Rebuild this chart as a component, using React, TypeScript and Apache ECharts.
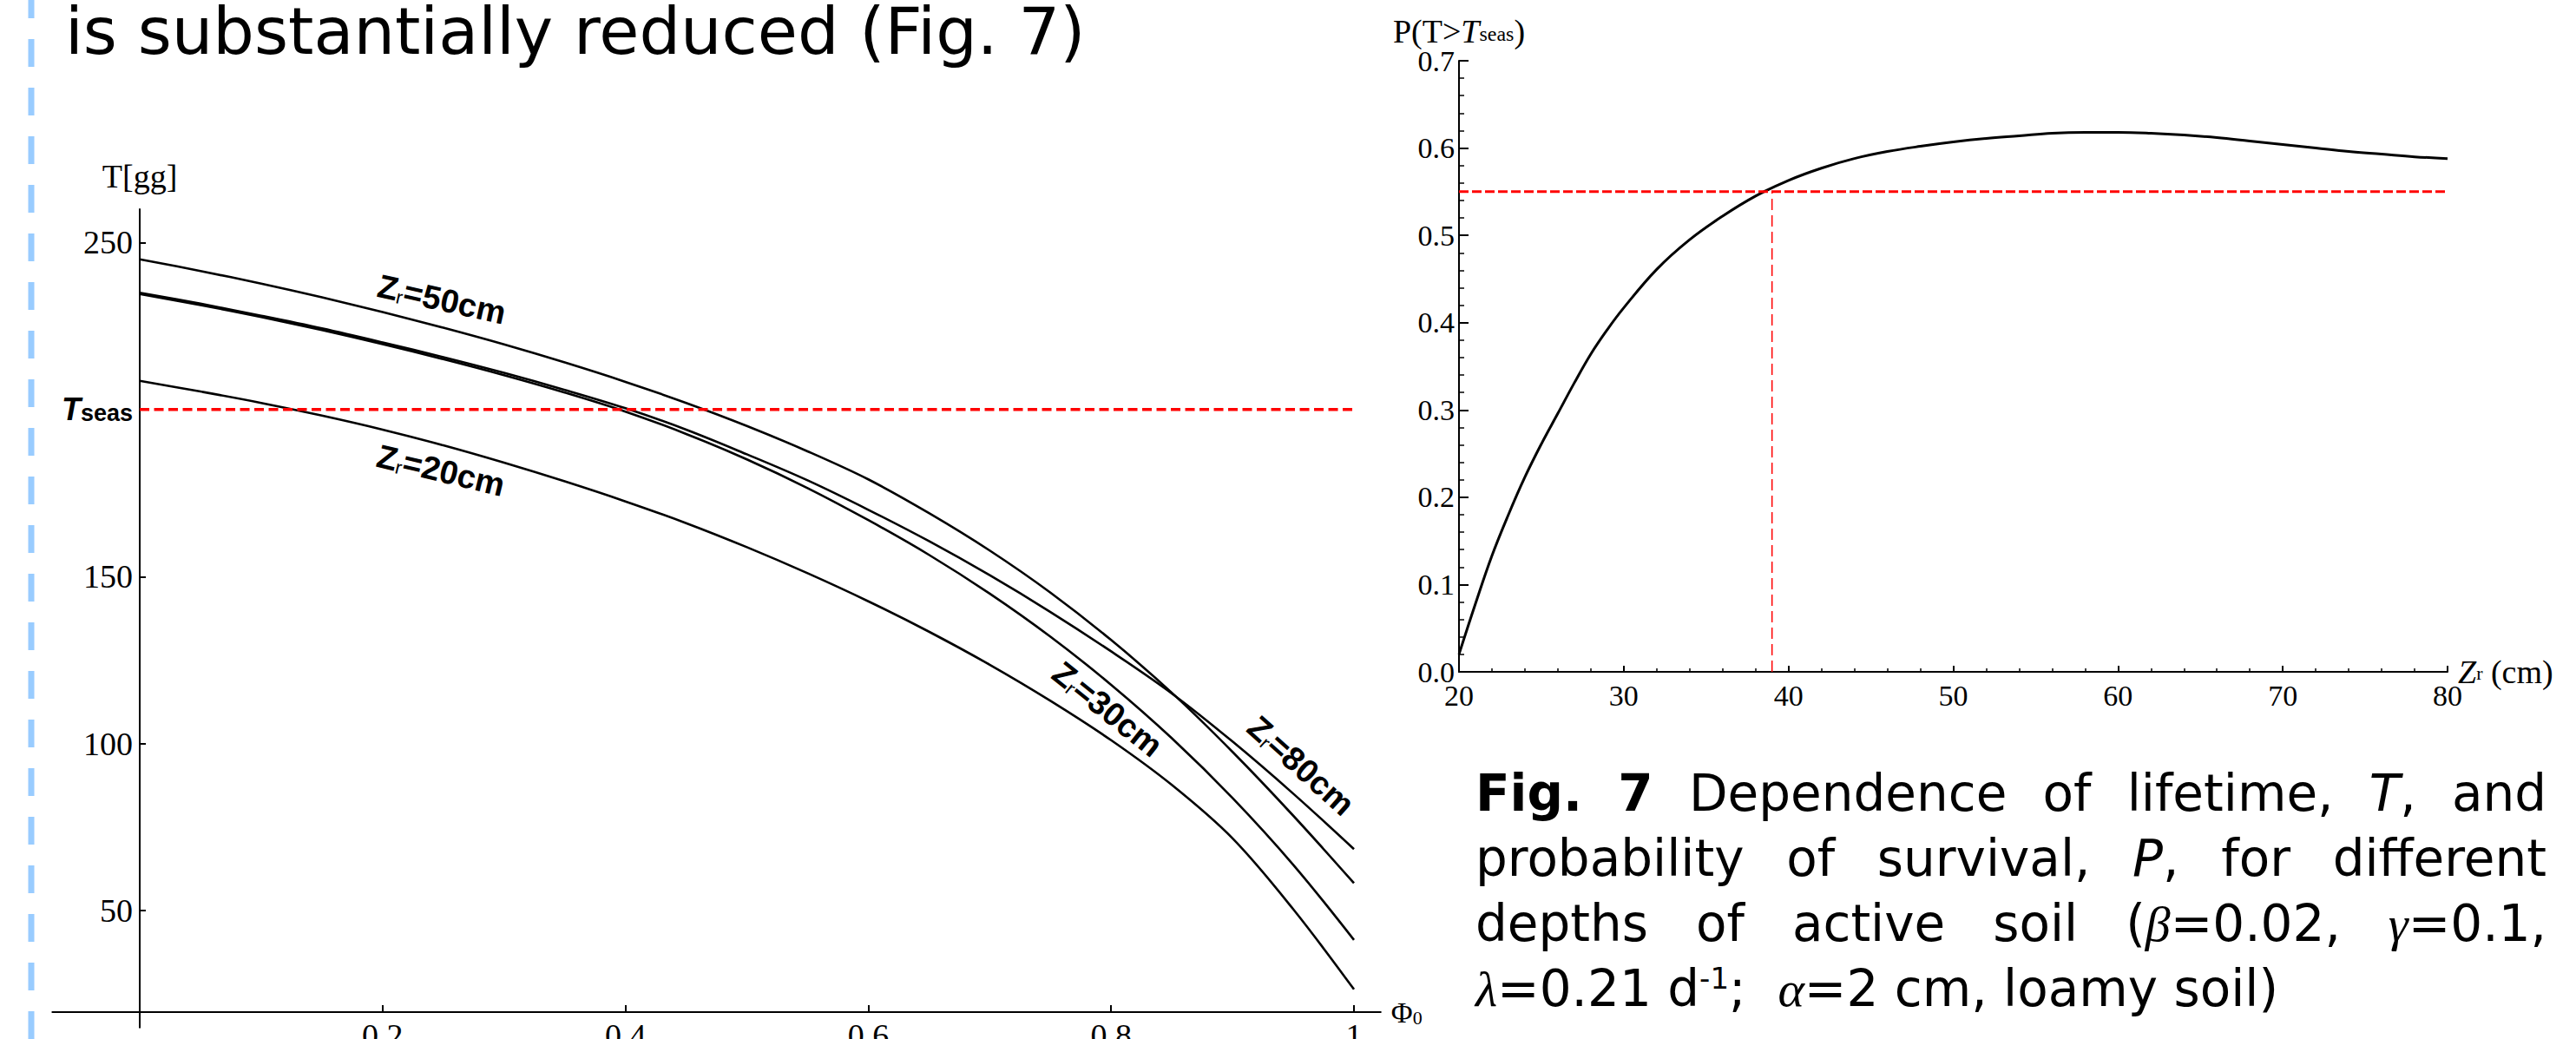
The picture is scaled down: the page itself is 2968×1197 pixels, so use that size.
import React, { useEffect, useRef } from 'react';
import * as echarts from 'echarts';

// ---------- DATA ----------
const phi = [0, 0.05, 0.1, 0.15, 0.2, 0.25, 0.3, 0.35, 0.4, 0.45, 0.5, 0.55, 0.6, 0.65, 0.7, 0.75, 0.8, 0.85, 0.9, 0.95, 1];
const tZr20 = [208.6, 205.4, 202.0, 198.2, 194.0, 189.3, 184.1, 178.5, 172.5, 166.0, 158.8, 151.0, 142.6, 133.5, 123.6, 112.8, 101.0, 87.6, 71.6, 50.4, 26.4];
const tZr30 = [234.6, 231.3, 227.7, 223.8, 219.6, 215.1, 210.3, 205.1, 199.4, 192.7, 185.1, 176.5, 166.9, 156.5, 144.9, 132.0, 117.6, 101.6, 83.7, 63.7, 41.2];
const tZr50 = [245.0, 241.5, 237.7, 233.6, 229.2, 224.5, 219.5, 214.1, 208.3, 202.0, 195.1, 187.5, 179.1, 169.0, 157.8, 145.2, 131.0, 115.2, 97.5, 78.4, 58.2];
const tZr80 = [235.0, 231.7, 228.1, 224.3, 220.1, 215.7, 211.0, 205.9, 200.4, 194.0, 186.6, 178.8, 170.0, 160.6, 150.4, 139.4, 127.6, 115.0, 100.6, 85.0, 68.4];
const tSeas = 200;
const leftYTicks = [50, 100, 150, 200, 250];
const leftXTicks = [0.2, 0.4, 0.6, 0.8, 1];
const curveLabels = ['50cm', '20cm', '30cm', '80cm'];

const zr = [20, 21, 22, 23, 24, 25, 26, 27, 28, 29, 30, 32, 34, 36, 38, 40, 42, 44, 46, 48, 50, 52, 54, 56, 58, 60, 62, 64, 66, 68, 70, 72, 74, 76, 78, 80];
const pSurv = [0.020, 0.078, 0.133, 0.180, 0.223, 0.261, 0.296, 0.331, 0.364, 0.392, 0.417, 0.461, 0.495, 0.522, 0.545, 0.563, 0.577, 0.588, 0.596, 0.602, 0.607, 0.611, 0.614, 0.617, 0.618, 0.618, 0.617, 0.615, 0.612, 0.608, 0.604, 0.600, 0.596, 0.593, 0.590, 0.588];
const pThreshold = 0.55;
const zrThreshold = 39;

const titleText = 'is substantially reduced (Fig. 7)';
type Seg = [string, string];
const captionLines: Seg[][][] = [
  [[['Fig.', 'b']], [['7', 'b']], [['Dependence', 'r']], [['of', 'r']], [['lifetime,', 'r']], [['T', 'i'], [',', 'r']], [['and', 'r']]],
  [[['probability', 'r']], [['of', 'r']], [['survival,', 'r']], [['P', 'i'], [',', 'r']], [['for', 'r']], [['different', 'r']]],
  [[['depths', 'r']], [['of', 'r']], [['active', 'r']], [['soil', 'r']], [['(', 'r'], ['β', 'g'], ['=0.02,', 'r']], [['γ', 'g'], ['=0.1,', 'r']]],
];
const captionLast: Seg[] = [['λ', 'g'], ['=0.21 d', 'r'], ['-1', 'sup'], [';  ', 'r'], ['α', 'g'], ['=2 cm, loamy soil)', 'r']];

// ---------- LAYOUT ----------
const W = 2968;
const H = 1197;
const CAP_FS = 58;
const CAP_L = 1700;
const CAP_R = 2934;
const CAP_Y = [914, 989, 1064, 1139];
const labelPos = [
  { x: 509, y: 345, a: 12.4 },
  { x: 508, y: 542, a: 13.5 },
  { x: 1276, y: 817, a: 38.7 },
  { x: 1499, y: 882, a: 41.8 },
];

const capStyles: Record<string, any> = {
  r: { fontFamily: 'DejaVu Sans', fontSize: CAP_FS, fontWeight: 'normal', fontStyle: 'normal', color: '#000' },
  b: { fontFamily: 'DejaVu Sans', fontSize: CAP_FS, fontWeight: 'bold', fontStyle: 'normal', color: '#000' },
  i: { fontFamily: 'DejaVu Sans', fontSize: CAP_FS, fontWeight: 'normal', fontStyle: 'italic', color: '#000' },
  g: { fontFamily: 'Liberation Serif', fontSize: CAP_FS, fontWeight: 'normal', fontStyle: 'italic', color: '#000' },
  sup: { fontFamily: 'DejaVu Sans', fontSize: 34, fontWeight: 'normal', fontStyle: 'normal', color: '#000', verticalAlign: 'top', lineHeight: 34 },
};

function fontStr(s: any) {
  return `${s.fontStyle} ${s.fontWeight} ${s.fontSize}px "${s.fontFamily}"`;
}

function richOf(segs: Seg[]) {
  return segs.map(([t, k]) => `{${k}|${t}}`).join('');
}

function buildCaption(): any[] {
  const canvas = document.createElement('canvas');
  const ctx = canvas.getContext('2d')!;
  const measure = (segs: Seg[]) =>
    segs.reduce((acc, [t, k]) => {
      ctx.font = fontStr(capStyles[k]);
      return acc + ctx.measureText(t).width;
    }, 0);
  const els: any[] = [];
  captionLines.forEach((words, li) => {
    const widths = words.map(measure);
    const total = widths.reduce((a, b) => a + b, 0);
    const gap = (CAP_R - CAP_L - total) / (words.length - 1);
    let x = CAP_L;
    words.forEach((w, wi) => {
      els.push({
        type: 'text',
        x,
        y: CAP_Y[li],
        silent: true,
        style: { text: richOf(w), rich: capStyles, align: 'left', verticalAlign: 'middle', fill: '#000' },
      });
      x += widths[wi] + gap;
    });
  });
  els.push({
    type: 'text',
    x: CAP_L,
    y: CAP_Y[3],
    silent: true,
    style: { text: richOf(captionLast), rich: capStyles, align: 'left', verticalAlign: 'middle', fill: '#000' },
  });
  return els;
}

const serif = 'Liberation Serif';
const black = '#000';

// left grid geometry
const LG = { left: 60.3, top: 241, width: 1530.5, height: 942.7 };
const LX_MIN = -0.072;
const LX_MAX = 1.022;
const yAxisShift = (-LX_MIN / (LX_MAX - LX_MIN)) * LG.width; // y axis sits at x = 0

function buildOption() {
  const zRich = {
    z: { fontFamily: 'Liberation Sans', fontWeight: 'bold', fontSize: 38, fill: black },
    s: { fontFamily: 'Liberation Sans', fontWeight: 'normal', fontSize: 22, fill: black, verticalAlign: 'bottom', lineHeight: 18 },
  };
  const graphics: any[] = [
    {
      type: 'line',
      silent: true,
      shape: { x1: 36, y1: -11, x2: 36, y2: H + 20 },
      style: { stroke: '#99ccff', lineWidth: 7, lineDash: [32, 24] },
    },
    {
      type: 'text',
      x: 75,
      y: 36,
      silent: true,
      style: { text: titleText, fontFamily: 'DejaVu Sans', fontSize: 75, lineHeight: 64, fill: black, align: 'left', verticalAlign: 'middle' },
    },
    ...curveLabels.map((t, i) => ({
      type: 'text',
      x: labelPos[i].x,
      y: labelPos[i].y,
      rotation: (-labelPos[i].a * Math.PI) / 180,
      silent: true,
      z: 20,
      style: { text: `{z|Z}{s|r}{z|=${t}}`, rich: zRich, align: 'center', verticalAlign: 'middle' },
    })),
    ...buildCaption(),
  ];

  const curve = (data: number[], name: string) => ({
    name,
    type: 'line',
    xAxisIndex: 0,
    yAxisIndex: 0,
    data: phi.map((x, i) => [x, data[i]]),
    smooth: 0.35,
    showSymbol: false,
    lineStyle: { color: black, width: 2.6 },
    z: 3,
  });

  return {
    animation: false,
    backgroundColor: '#ffffff',
    grid: [
      { ...LG, containLabel: false, outerBoundsMode: 'none' },
      { left: 1681, top: 70, width: 1139, height: 704, containLabel: false, outerBoundsMode: 'none' },
    ],
    xAxis: [
      {
        gridIndex: 0,
        type: 'value',
        min: LX_MIN,
        max: LX_MAX,
        position: 'bottom',
        offset: -17.7,
        axisLine: { show: true, onZero: false, lineStyle: { color: black, width: 2 } },
        axisTick: { show: true, inside: true, length: 8, customValues: leftXTicks, lineStyle: { color: black, width: 2 } },
        axisLabel: {
          show: true,
          customValues: leftXTicks,
          margin: 8,
          color: black,
          fontFamily: serif,
          fontSize: 38,
          formatter: (v: number) => String(Math.round(v * 10) / 10),
        },
        splitLine: { show: false },
        name: '{p|Φ}{s|0}',
        nameLocation: 'end',
        nameGap: 12,
        nameMoveOverlap: false,
        nameTextStyle: {
          color: black,
          fontFamily: serif,
          fontSize: 34,
          rich: {
            p: { fontFamily: serif, fontSize: 34, color: black },
            s: { fontFamily: serif, fontSize: 22, color: black, verticalAlign: 'bottom', lineHeight: 14 },
          },
        },
      },
      {
        gridIndex: 1,
        type: 'value',
        min: 20,
        max: 80,
        interval: 10,
        axisLine: { show: true, onZero: false, lineStyle: { color: black, width: 2 } },
        axisTick: { show: true, inside: true, length: 7, lineStyle: { color: black, width: 2 } },
        minorTick: { show: true, splitNumber: 5, length: 4, lineStyle: { color: black, width: 1.5 } },
        axisLabel: { show: true, margin: 10, color: black, fontFamily: serif, fontSize: 34 },
        splitLine: { show: false },
        minorSplitLine: { show: false },
        name: '{it|Z}{s|r} (cm)',
        nameLocation: 'end',
        nameGap: 12,
        nameMoveOverlap: false,
        nameTextStyle: {
          color: black,
          fontFamily: serif,
          fontSize: 38,
          lineHeight: 24,
          rich: {
            it: { fontFamily: serif, fontStyle: 'italic', fontSize: 38, color: black, lineHeight: 24 },
            s: { fontFamily: serif, fontSize: 22, color: black, verticalAlign: 'bottom', lineHeight: 2 },
          },
        },
      },
    ],
    yAxis: [
      {
        gridIndex: 0,
        type: 'value',
        min: 15,
        max: 260,
        position: 'left',
        offset: -yAxisShift,
        axisLine: { show: true, onZero: false, lineStyle: { color: black, width: 2 } },
        axisTick: { show: true, inside: true, length: 7, customValues: leftYTicks, lineStyle: { color: black, width: 2 } },
        axisLabel: {
          show: true,
          customValues: leftYTicks,
          margin: 8,
          color: black,
          fontFamily: serif,
          fontSize: 38,
          formatter: (v: number) => (v === tSeas ? '{t|T}{s|seas}' : String(v)),
          rich: {
            t: { fontFamily: 'Liberation Sans', fontWeight: 'bold', fontStyle: 'italic', fontSize: 36, color: black },
            s: { fontFamily: 'Liberation Sans', fontWeight: 'bold', fontSize: 27, color: black, verticalAlign: 'bottom', lineHeight: 16 },
          },
        },
        splitLine: { show: false },
        name: 'T[gg]',
        nameLocation: 'end',
        nameGap: 19,
        nameMoveOverlap: false,
        nameTextStyle: { color: black, fontFamily: serif, fontSize: 38 },
      },
      {
        gridIndex: 1,
        type: 'value',
        min: 0,
        max: 0.7,
        interval: 0.1,
        axisLine: { show: true, onZero: false, lineStyle: { color: black, width: 2 } },
        axisTick: { show: true, inside: true, length: 11, lineStyle: { color: black, width: 2 } },
        minorTick: { show: true, splitNumber: 5, length: 6, lineStyle: { color: black, width: 1.5 } },
        axisLabel: {
          show: true,
          margin: 5,
          color: black,
          fontFamily: serif,
          fontSize: 34,
          formatter: (v: number) => v.toFixed(1),
        },
        splitLine: { show: false },
        minorSplitLine: { show: false },
        name: 'P(T>{it|T}{s|seas})',
        nameLocation: 'end',
        nameGap: 19,
        nameMoveOverlap: false,
        nameTextStyle: {
          color: black,
          fontFamily: serif,
          fontSize: 38,
          lineHeight: 30,
          rich: {
            it: { fontFamily: serif, fontStyle: 'italic', fontSize: 38, color: black, lineHeight: 30 },
            s: { fontFamily: serif, fontSize: 24, color: black, verticalAlign: 'bottom', lineHeight: 8 },
          },
        },
      },
    ],
    series: [
      curve(tZr20, 'Zr=20cm'),
      curve(tZr30, 'Zr=30cm'),
      curve(tZr50, 'Zr=50cm'),
      curve(tZr80, 'Zr=80cm'),
      {
        name: 'Tseas',
        type: 'line',
        xAxisIndex: 0,
        yAxisIndex: 0,
        data: [[0, tSeas], [1, tSeas]],
        showSymbol: false,
        lineStyle: { color: '#ff0000', width: 3.5, type: [11, 5.5] },
        z: 5,
      },
      {
        name: 'P',
        type: 'line',
        xAxisIndex: 1,
        yAxisIndex: 1,
        data: zr.map((x, i) => [x, pSurv[i]]),
        smooth: 0.4,
        showSymbol: false,
        lineStyle: { color: black, width: 3 },
        z: 3,
      },
      {
        name: 'Pthr',
        type: 'line',
        xAxisIndex: 1,
        yAxisIndex: 1,
        data: [[20, pThreshold], [80, pThreshold]],
        showSymbol: false,
        lineStyle: { color: '#ff0000', width: 3, type: [11, 4] },
        z: 5,
      },
      {
        name: 'Zthr',
        type: 'line',
        xAxisIndex: 1,
        yAxisIndex: 1,
        data: [[zrThreshold, 0], [zrThreshold, pThreshold]],
        showSymbol: false,
        lineStyle: { color: '#ff0000', width: 1.5, type: [13, 6] },
        z: 5,
      },
    ],
    graphic: graphics,
  };
}

export default function App() {
  const ref = useRef<HTMLDivElement>(null);
  useEffect(() => {
    if (!ref.current) return;
    const chart = echarts.init(ref.current, null, { renderer: 'svg' });
    chart.setOption(buildOption() as any);
    return () => chart.dispose();
  }, []);
  return (
    <div
      ref={ref}
      style={{ position: 'fixed', left: 0, top: 0, width: W, height: H, background: '#fff' }}
    />
  );
}
